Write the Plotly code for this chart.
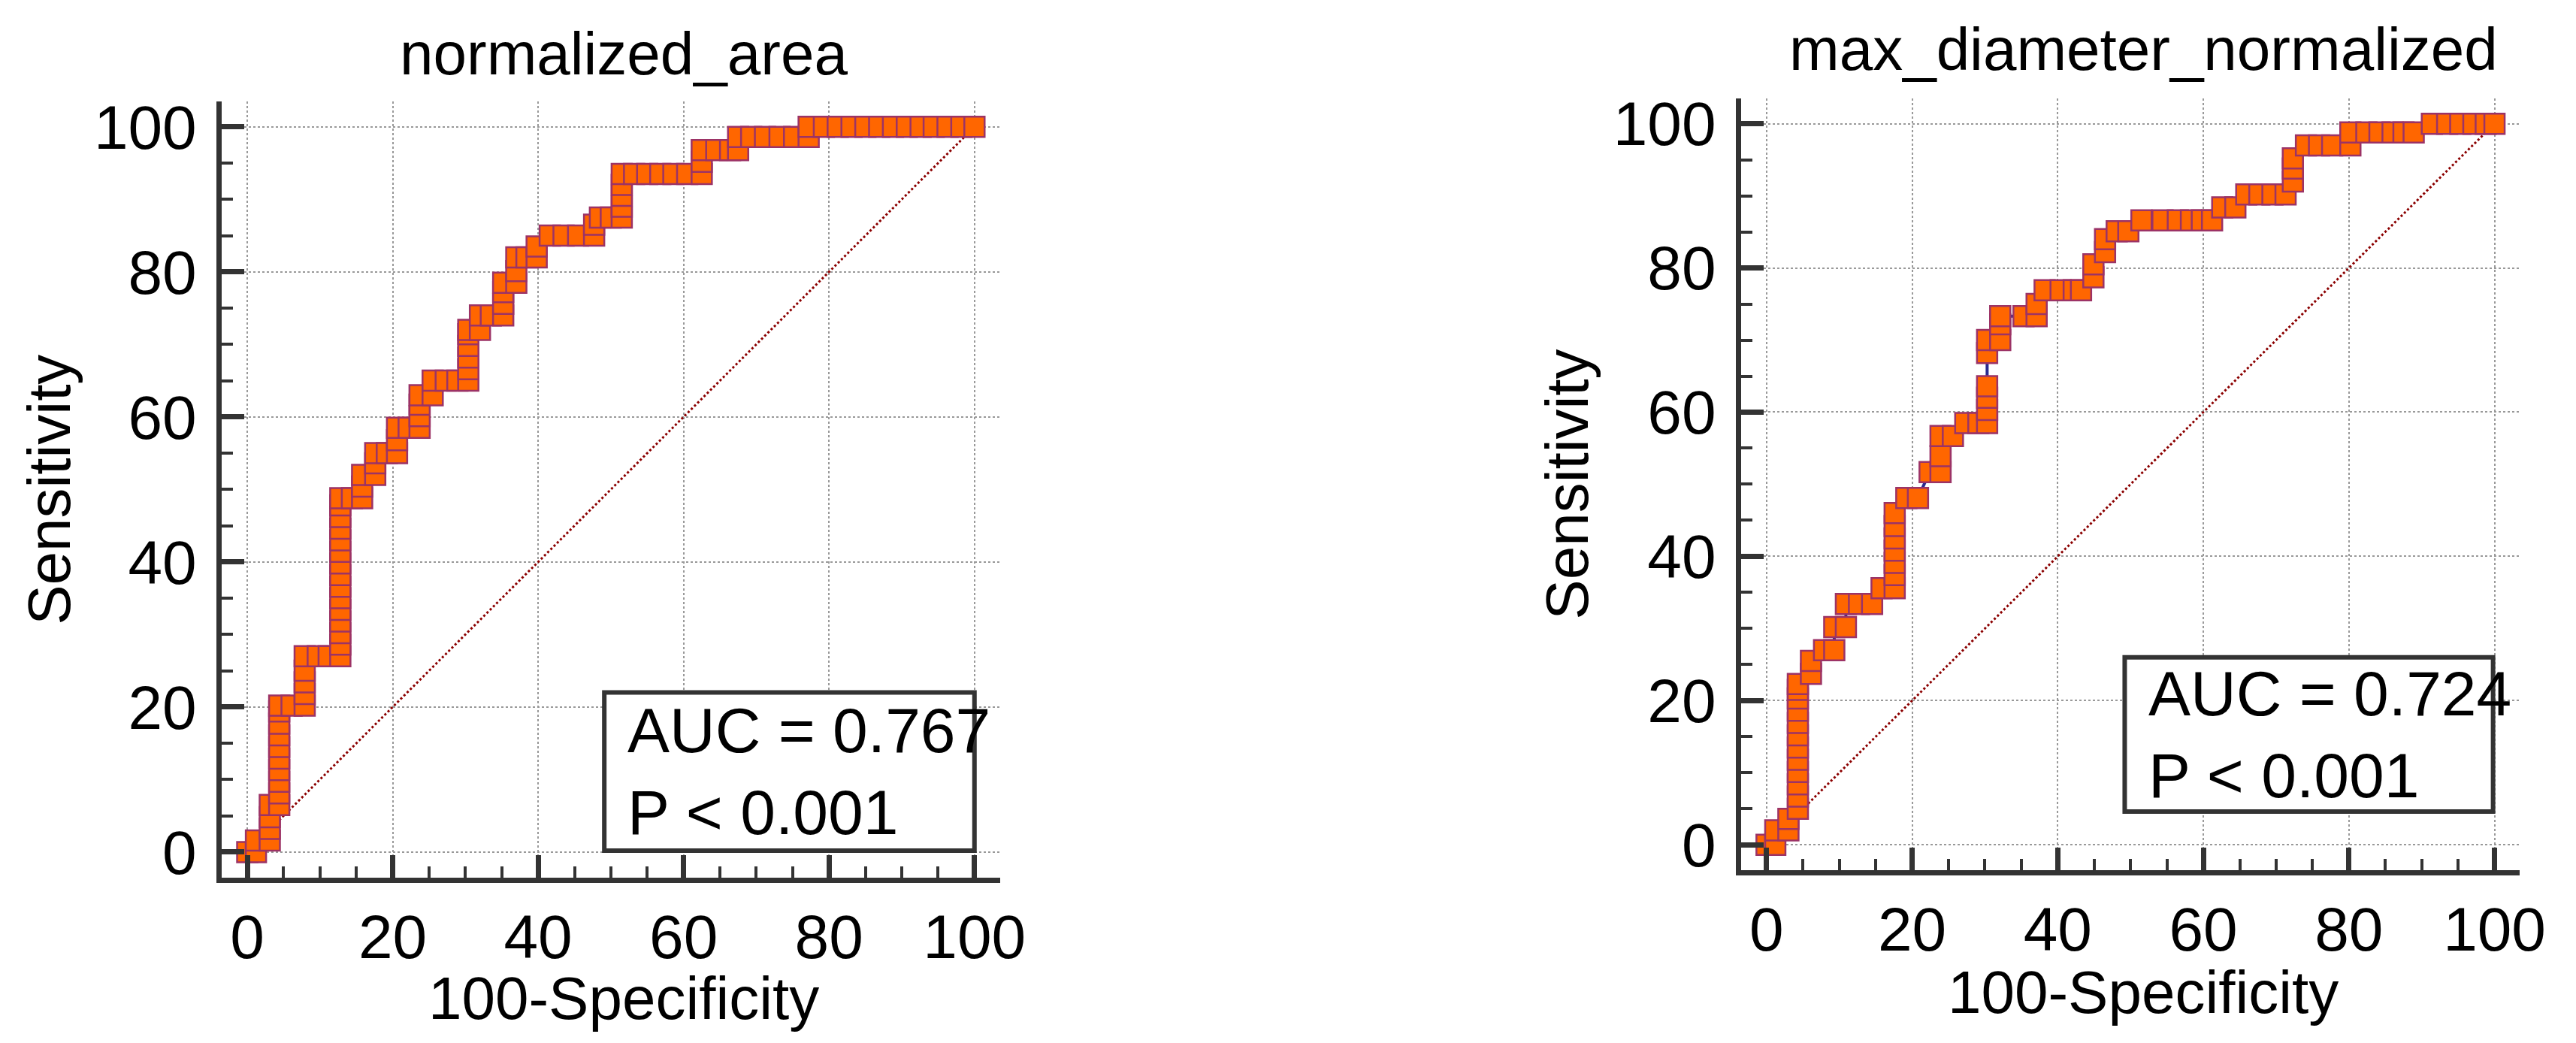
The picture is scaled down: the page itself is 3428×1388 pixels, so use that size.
import plotly.graph_objects as go

# ROC points (100-Specificity, Sensitivity)
area_fpr = [0, 1.2, 1.2, 3.1, 3.1, 3.1, 3.1, 4.4, 4.4, 4.4, 4.4, 4.4, 4.4, 4.4, 4.4, 4.4, 4.4,
            6.1, 7.9, 7.9, 7.9, 7.9, 7.9, 9.7, 11.2, 12.8, 12.8, 12.8, 12.8, 12.8, 12.8, 12.8,
            12.8, 12.8, 12.8, 12.8, 12.8, 12.8, 12.8, 12.8, 14.4, 15.8, 15.8, 15.8, 17.6, 17.6,
            17.6, 19.2, 20.6, 20.6, 20.6, 22.2, 23.7, 23.7, 23.7, 23.7, 25.5, 25.5, 27.3, 28.9,
            30.4, 30.4, 30.4, 30.4, 30.4, 30.4, 32.0, 32.0, 33.5, 35.2, 35.2, 35.2, 35.2, 37.0,
            37.0, 37.0, 38.4, 39.8, 39.8, 41.6, 43.5, 45.5, 47.7, 47.7, 48.5, 50.0, 51.5, 51.5,
            51.5, 51.5, 51.5, 53.2, 55.0, 56.8, 58.6, 60.5, 62.5, 62.5, 62.5, 64.5, 66.4, 67.5,
            67.5, 69.3, 71.2, 73.2, 75.2, 77.2, 77.2, 79.3, 81.2, 83.1, 85.0, 86.9, 88.8, 90.7,
            92.6, 94.4, 96.3, 98.2, 100]
area_tpr = [0, 0, 1.6, 1.6, 3.2, 4.8, 6.5, 6.5, 8.1, 9.7, 11.3, 12.9, 14.5, 16.1, 17.7, 19.4, 20.2,
            20.2, 20.2, 21.8, 23.4, 25.0, 27.0, 27.0, 27.0, 27.0, 28.6, 30.2, 31.8, 33.4, 35.0,
            36.6, 38.2, 39.8, 41.4, 43.0, 44.6, 46.2, 47.8, 48.8, 48.8, 48.8, 50.4, 52.0, 52.0,
            53.6, 55.0, 55.0, 55.0, 56.8, 58.5, 58.5, 58.5, 60.1, 61.7, 63.0, 63.0, 65.0, 65.0,
            65.0, 65.0, 66.6, 68.2, 69.8, 71.4, 72.0, 72.0, 74.0, 74.0, 74.0, 75.6, 77.2, 78.5,
            78.5, 80.1, 82.0, 82.0, 82.0, 83.5, 85.0, 85.0, 85.0, 85.0, 86.5, 87.5, 87.5, 87.5,
            89.0, 90.5, 92.0, 93.5, 93.5, 93.5, 93.5, 93.5, 93.5, 93.5, 95.2, 96.8, 96.8, 96.8,
            96.8, 98.6, 98.6, 98.6, 98.6, 98.6, 98.6, 100, 100, 100, 100, 100, 100, 100, 100,
            100, 100, 100, 100, 100]

diam_fpr = [0, 1.2, 1.2, 3.0, 3.0, 4.3, 4.3, 4.3, 4.3, 4.3, 4.3, 4.3, 4.3, 4.3, 4.3, 4.3, 4.3,
            6.1, 6.1, 7.9, 9.3, 9.3, 10.9, 10.9, 12.7, 14.5, 15.8, 17.6, 17.6, 17.6, 17.6, 17.6,
            17.6, 17.6, 19.2, 20.8, 22.4, 23.9, 23.9, 23.9, 25.6, 27.3, 29.1, 30.3, 30.3, 30.3,
            30.3, 30.3, 30.3, 32.1, 32.1, 32.1, 35.3, 37.1, 37.1, 38.2, 40.4, 42.2, 43.2, 44.9,
            44.9, 46.5, 46.5, 48.1, 49.7, 51.5, 54.4, 56.5, 58.3, 59.8, 61.2, 62.6, 64.4, 65.9,
            67.7, 69.5, 71.3, 72.3, 72.3, 72.3, 74.1, 75.9, 77.7, 80.2, 80.2, 82.4, 84.2, 86.0,
            87.5, 88.9, 91.4, 93.5, 95.3, 97.1, 98.8, 100]
diam_tpr = [0, 0, 2.0, 2.0, 3.6, 5.0, 6.7, 8.4, 10.1, 11.8, 13.5, 15.2, 16.9, 18.6, 20.3, 21.5,
            22.3, 23.7, 25.5, 27.0, 27.0, 30.2, 30.2, 33.4, 33.4, 33.4, 35.6, 35.6, 37.4, 39.1,
            40.8, 42.5, 44.2, 46.0, 48.1, 48.1, 51.7, 51.7, 53.9, 56.7, 56.7, 58.5, 58.5, 58.5,
            60.3, 62.0, 63.6, 68.2, 70.0, 70.0, 72.2, 73.3, 73.3, 73.3, 75.0, 76.9, 76.9, 76.9,
            76.9, 78.7, 80.5, 82.2, 84.0, 85.1, 85.1, 86.6, 86.6, 86.6, 86.6, 86.6, 86.6, 88.4,
            88.4, 90.2, 90.2, 90.2, 90.2, 92.0, 93.8, 95.2, 97.0, 97.0, 97.0, 97.0, 98.8, 98.8,
            98.8, 98.8, 98.8, 98.8, 100, 100, 100, 100, 100, 100]

titles = ["normalized_area", "max_diameter_normalized"]
auc_text = ["AUC = 0.767<br>P < 0.001", "AUC = 0.724<br>P < 0.001"]
tick_vals = [0, 20, 40, 60, 80, 100]

FONT = "Liberation Sans, Arial, sans-serif"
AXC = "#333333"

fig = go.Figure()

curves = [(area_fpr, area_tpr), (diam_fpr, diam_tpr)]
for i, (fx, ty) in enumerate(curves):
    xa = "x" if i == 0 else "x2"
    ya = "y" if i == 0 else "y2"
    fig.add_trace(go.Scatter(x=[0, 100], y=[0, 100], mode="lines", xaxis=xa, yaxis=ya,
                             line=dict(color="#8B0000", width=3, dash="dot"), showlegend=False))
    fig.add_trace(go.Scatter(x=fx, y=ty, mode="lines+markers", xaxis=xa, yaxis=ya,
                             line=dict(color="#2B2B8F", width=4),
                             marker=dict(symbol="square", size=27, color="#FF6600",
                                         line=dict(color="#9C3366", width=2.5)),
                             showlegend=False))

doms_x = [[0.0846, 0.3897], [0.6803, 0.9857]]
doms_y = [[0.1585, 0.915], [0.1657, 0.9179]]

axis_common = dict(range=[-3.5, 103.5], tickvals=tick_vals, showline=True, linecolor=AXC,
                   linewidth=7, ticks="inside", ticklen=30, tickwidth=7, tickcolor=AXC,
                   showgrid=True, gridcolor="#999999", griddash="dot", gridwidth=2,
                   zeroline=False, tickfont=dict(family=FONT, size=82, color="black"),
                   minor=dict(dtick=5, ticks="inside", ticklen=15, tickwidth=4,
                              tickcolor=AXC, showgrid=False))

fig.update_layout(
    width=3428, height=1388, margin=dict(l=0, r=0, t=0, b=0),
    paper_bgcolor="white", plot_bgcolor="white",
    xaxis=dict(domain=doms_x[0], anchor="y", ticklabelstandoff=2, **axis_common),
    yaxis=dict(domain=doms_y[0], anchor="x", ticklabelstandoff=10, **axis_common),
    xaxis2=dict(domain=doms_x[1], anchor="y2", ticklabelstandoff=2, **axis_common),
    yaxis2=dict(domain=doms_y[1], anchor="x2", ticklabelstandoff=10, **axis_common),
)

title_font = dict(family=FONT, size=80, color="black")
for i in range(2):
    xr = "x" if i == 0 else "x2"
    yr = "y" if i == 0 else "y2"
    cx = (doms_x[i][0] + doms_x[i][1]) / 2 + 0.005
    # plot title
    fig.add_annotation(text=titles[i], xref="paper", yref="paper", x=cx, y=1 - 53 / 1388 - (0 if i == 0 else -0.004),
                       xanchor="center", yanchor="middle", showarrow=False, font=title_font)
    # x axis title
    fig.add_annotation(text="100-Specificity", xref="paper", yref="paper", x=cx,
                       y=1 - 1332 / 1388 + (0 if i == 0 else 0.006),
                       xanchor="center", yanchor="middle", showarrow=False, font=title_font)
    # y axis title
    fig.add_annotation(text="Sensitivity", xref="paper", yref="paper",
                       x=(58 if i == 0 else 2098) / 3428, y=(doms_y[i][0] + doms_y[i][1]) / 2,
                       xanchor="center", yanchor="middle", textangle=-90, showarrow=False,
                       font=title_font)
    # AUC box
    box = [(49.1, 0.2, 100, 22), (49.2, 4.6, 99.8, 26)][i]
    fig.add_shape(type="rect", xref=xr, yref=yr, x0=box[0], y0=box[1], x1=box[2], y1=box[3],
                  line=dict(color=AXC, width=6), fillcolor="white", layer="above")
    fig.add_annotation(text=auc_text[i], xref=xr, yref=yr, x=box[0] + 3.0,
                       y=(box[1] + box[3]) / 2, xanchor="left", yanchor="middle",
                       align="left", showarrow=False,
                       font=dict(family=FONT, size=84, color="black"))

fig.write_html("out.html")
